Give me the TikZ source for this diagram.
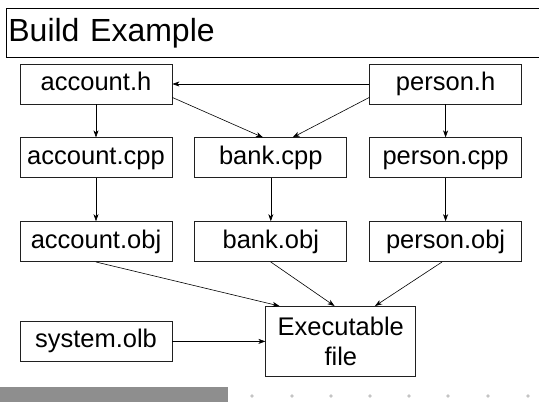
\documentclass[tikz,border=0pt]{standalone}
\usepackage{fontspec}
\setmainfont{Liberation Sans}
\usetikzlibrary{arrows.meta,positioning}
\definecolor{BoxLine}{HTML}{202020}
\definecolor{BarGrey}{HTML}{8E8E8E}
\definecolor{DotGrey}{HTML}{C4C4C4}
\tikzset{
  filebox/.style={draw=BoxLine, line width=0.8pt, align=center, minimum width=152pt, minimum height=40pt, inner sep=2pt, text height=18pt, text depth=5pt},
  exebox/.style={draw=BoxLine, line width=0.8pt, align=center, minimum width=150pt, minimum height=70pt, inner sep=2pt},
  titlebox/.style={draw=black, line width=0.8pt, anchor=north west, minimum height=49pt, text width=540pt, inner xsep=2pt, align=left, font=\fontsize{32}{36}\selectfont},
  arrow/.style={-{Stealth[length=7pt, width=5pt, inset=2pt]}, line width=0.6pt, draw=black}
}

\begin{document}
\begin{tikzpicture}[x=1pt, y=-1pt, node distance=22pt, font=\fontsize{25.5}{30}\selectfont]
    \useasboundingbox (0,0) rectangle (539,402);
    % slide title
    \node[titlebox] (title) at (6,8) {Build Example};
    % source files
    \node[filebox] (acch) at (96,84) {account.h};
    \node[filebox, below=33pt of acch] (acccpp) {account.cpp};
    \node[filebox, right=of acccpp] (bankcpp) {bank.cpp};
    \node[filebox, right=of bankcpp] (personcpp) {person.cpp};
    \node[filebox, above=33pt of personcpp] (personh) {person.h};
    % object files
    \node[filebox, below=43pt of acccpp] (accobj) {account.obj};
    \node[filebox, right=of accobj] (bankobj) {bank.obj};
    \node[filebox, right=of bankobj] (personobj) {person.obj};
    \node[filebox, below=59pt of accobj] (sysolb) {system.olb};
    \node[exebox, right=93pt of sysolb] (exe) {Executable\\file};

    \draw[arrow] (acch) -- (acccpp);
    \draw[arrow] (personh) -- (acch);
    \draw[arrow] (acch.-10) -- (bankcpp.111);
    \draw[arrow] (personh.190) -- (bankcpp.43);
    \draw[arrow] (personh) -- (personcpp);
    \draw[arrow] (acccpp) -- (accobj);
    \draw[arrow] (bankcpp) -- (bankobj);
    \draw[arrow] (personcpp) -- (personobj);
    \draw[arrow] (accobj.south) -- (exe.150);
    \draw[arrow] (bankobj.south) -- (exe.100);
    \draw[arrow] (personobj.260) -- (exe.46);
    \draw[arrow] (sysolb) -- (exe);

    % footer bar and dots
    \fill[BarGrey] (0,387) rectangle (228,402);
    \foreach \dx in {252,292,331,370,409,448,488,528}
      \fill[DotGrey] (\dx,396) circle (1.8pt);
  \end{tikzpicture}
\end{document}
